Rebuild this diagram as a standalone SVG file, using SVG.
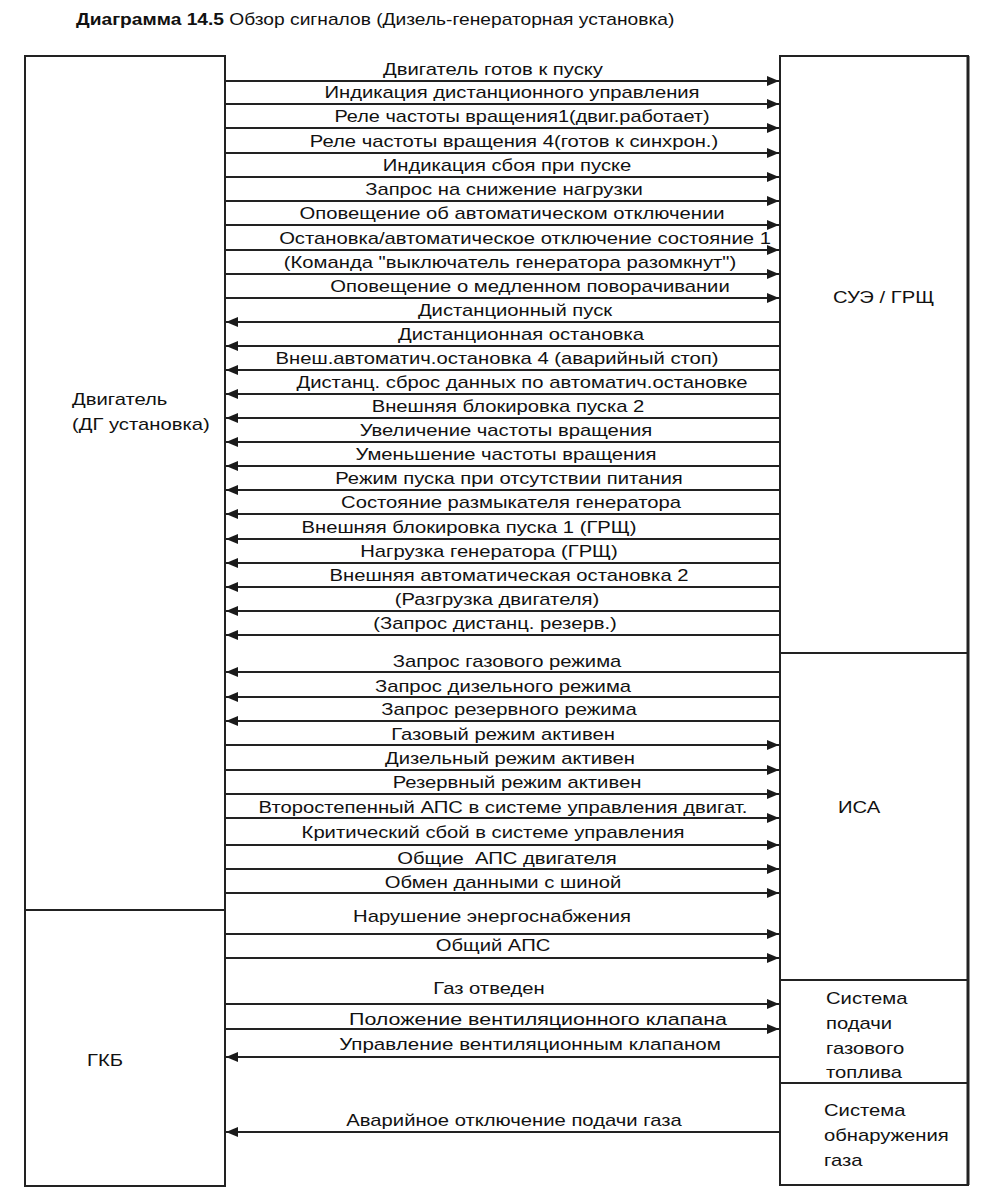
<svg xmlns="http://www.w3.org/2000/svg" width="982" height="1201" viewBox="0 0 982 1201">
<defs>
<marker id="ah" markerUnits="userSpaceOnUse" markerWidth="12" markerHeight="10" refX="12" refY="5" orient="auto">
<path d="M0,0 L12,5 L0,10 z" fill="#1a1a1a"/>
</marker>
<style>
.box{fill:#fff;stroke:#222;stroke-width:2}
.div{stroke:#222;stroke-width:2}
.ln{stroke:#222;stroke-width:2;fill:none}
.r{marker-end:url(#ah)}
.t{font-family:"Liberation Sans",Arial,sans-serif;font-size:17px;fill:#111}
.c{text-anchor:middle}
</style>
</defs>
<rect width="982" height="1201" fill="#fff"/>
<text transform="matrix(1.2 0 0 1 76 25)" class="t" style="font-size:16px"><tspan font-weight="bold">Диаграмма 14.5</tspan> Обзор сигналов (Дизель-генераторная установка)</text>

<g id="engine">
<rect class="box" x="25" y="56" width="200" height="1130"/>
<line class="div" x1="25" y1="910" x2="225" y2="910"/>
<text class="t" transform="matrix(1.19 0 0 1 72 405)">Двигатель</text>
<text class="t" transform="matrix(1.19 0 0 1 72 430)">(ДГ установка)</text>
</g>
<g id="gkb">
<text class="t" transform="matrix(1.19 0 0 1 87 1066)">ГКБ</text>
</g>
<g id="sue">
<rect class="box" x="780" y="56" width="188" height="1129"/>
<line x1="968" y1="56" x2="968" y2="1185" stroke="#222" stroke-width="3"/>
<line class="div" x1="780" y1="653" x2="968" y2="653"/>
<text class="t" transform="matrix(1.19 0 0 1 833 303)">СУЭ / ГРЩ</text>
</g>
<g id="isa">
<line class="div" x1="780" y1="980" x2="968" y2="980"/>
<text class="t" transform="matrix(1.19 0 0 1 838 813)">ИСА</text>
</g>
<g id="gas-supply">
<line class="div" x1="780" y1="1083" x2="968" y2="1083"/>
<text class="t" transform="matrix(1.19 0 0 1 826 1004)">Система</text>
<text class="t" transform="matrix(1.19 0 0 1 826 1029)">подачи</text>
<text class="t" transform="matrix(1.19 0 0 1 826 1054)">газового</text>
<text class="t" transform="matrix(1.19 0 0 1 826 1078)">топлива</text>
</g>
<g id="gas-detect">
<text class="t" transform="matrix(1.19 0 0 1 824 1116)">Система</text>
<text class="t" transform="matrix(1.19 0 0 1 824 1141)">обнаружения</text>
<text class="t" transform="matrix(1.19 0 0 1 824 1166)">газа</text>
</g>

<g id="connectors">
<line class="ln r" x1="226" y1="81" x2="779" y2="81"/>
<line class="ln r" x1="226" y1="104" x2="779" y2="104"/>
<line class="ln r" x1="226" y1="128" x2="779" y2="128"/>
<line class="ln r" x1="226" y1="153" x2="779" y2="153"/>
<line class="ln r" x1="226" y1="177" x2="779" y2="177"/>
<line class="ln r" x1="226" y1="201" x2="779" y2="201"/>
<line class="ln r" x1="226" y1="225" x2="779" y2="225"/>
<line class="ln r" x1="226" y1="250" x2="779" y2="250"/>
<line class="ln r" x1="226" y1="274" x2="779" y2="274"/>
<line class="ln r" x1="226" y1="298" x2="779" y2="298"/>
<line class="ln r" x1="779" y1="322" x2="226" y2="322"/>
<line class="ln r" x1="779" y1="346" x2="226" y2="346"/>
<line class="ln r" x1="779" y1="370" x2="226" y2="370"/>
<line class="ln r" x1="779" y1="394" x2="226" y2="394"/>
<line class="ln r" x1="779" y1="418" x2="226" y2="418"/>
<line class="ln r" x1="779" y1="442" x2="226" y2="442"/>
<line class="ln r" x1="779" y1="466" x2="226" y2="466"/>
<line class="ln r" x1="779" y1="490" x2="226" y2="490"/>
<line class="ln r" x1="779" y1="514" x2="226" y2="514"/>
<line class="ln r" x1="779" y1="539" x2="226" y2="539"/>
<line class="ln r" x1="779" y1="563" x2="226" y2="563"/>
<line class="ln r" x1="779" y1="587" x2="226" y2="587"/>
<line class="ln r" x1="779" y1="611" x2="226" y2="611"/>
<line class="ln r" x1="779" y1="635" x2="226" y2="635"/>
<line class="ln r" x1="779" y1="672" x2="226" y2="672"/>
<line class="ln r" x1="779" y1="697" x2="226" y2="697"/>
<line class="ln r" x1="779" y1="721" x2="226" y2="721"/>
<line class="ln r" x1="226" y1="745" x2="779" y2="745"/>
<line class="ln r" x1="226" y1="770" x2="779" y2="770"/>
<line class="ln r" x1="226" y1="794" x2="779" y2="794"/>
<line class="ln r" x1="226" y1="818" x2="779" y2="818"/>
<line class="ln r" x1="226" y1="845" x2="779" y2="845"/>
<line class="ln r" x1="226" y1="869" x2="779" y2="869"/>
<line class="ln r" x1="226" y1="893" x2="779" y2="893"/>
<line class="ln r" x1="226" y1="934" x2="779" y2="934"/>
<line class="ln r" x1="226" y1="958" x2="779" y2="958"/>
<line class="ln r" x1="226" y1="1004" x2="779" y2="1004"/>
<line class="ln r" x1="226" y1="1029" x2="779" y2="1029"/>
<line class="ln r" x1="779" y1="1057" x2="226" y2="1057"/>
<line class="ln r" x1="779" y1="1132" x2="226" y2="1132"/>
</g>

<g id="labels" class="t c">
<text transform="matrix(1.19 0 0 1 493 75)">Двигатель готов к пуску</text>
<text transform="matrix(1.19 0 0 1 512 98)">Индикация дистанционного управления</text>
<text transform="matrix(1.17 0 0 1 522 122)">Реле частоты вращения1(двиг.работает)</text>
<text transform="matrix(1.19 0 0 1 514 147)">Реле частоты вращения 4(готов к синхрон.)</text>
<text transform="matrix(1.19 0 0 1 507 171)">Индикация сбоя при пуске</text>
<text transform="matrix(1.19 0 0 1 504 195)">Запрос на снижение нагрузки</text>
<text transform="matrix(1.19 0 0 1 512 219)">Оповещение об автоматическом отключении</text>
<text transform="matrix(1.19 0 0 1 525 244)">Остановка/автоматическое отключение состояние 1</text>
<text transform="matrix(1.19 0 0 1 510 268)">(Команда "выключатель генератора разомкнут")</text>
<text transform="matrix(1.19 0 0 1 530 292)">Оповещение о медленном поворачивании</text>
<text transform="matrix(1.19 0 0 1 515 316)">Дистанционный пуск</text>
<text transform="matrix(1.19 0 0 1 521 340)">Дистанционная остановка</text>
<text transform="matrix(1.19 0 0 1 497 364)">Внеш.автоматич.остановка 4 (аварийный стоп)</text>
<text transform="matrix(1.19 0 0 1 522 388)">Дистанц. сброс данных по автоматич.остановке</text>
<text transform="matrix(1.19 0 0 1 508 412)">Внешняя блокировка пуска 2</text>
<text transform="matrix(1.19 0 0 1 506 436)">Увеличение частоты вращения</text>
<text transform="matrix(1.19 0 0 1 506 460)">Уменьшение частоты вращения</text>
<text transform="matrix(1.19 0 0 1 509 484)">Режим пуска при отсутствии питания</text>
<text transform="matrix(1.19 0 0 1 511 508)">Состояние размыкателя генератора</text>
<text transform="matrix(1.19 0 0 1 469 533)">Внешняя блокировка пуска 1 (ГРЩ)</text>
<text transform="matrix(1.19 0 0 1 489 557)">Нагрузка генератора (ГРЩ)</text>
<text transform="matrix(1.19 0 0 1 509 581)">Внешняя автоматическая остановка 2</text>
<text transform="matrix(1.19 0 0 1 497 605)">(Разгрузка двигателя)</text>
<text transform="matrix(1.19 0 0 1 495 629)">(Запрос дистанц. резерв.)</text>
<text transform="matrix(1.19 0 0 1 507 667)">Запрос газового режима</text>
<text transform="matrix(1.19 0 0 1 503 692)">Запрос дизельного режима</text>
<text transform="matrix(1.19 0 0 1 509 715)">Запрос резервного режима</text>
<text transform="matrix(1.19 0 0 1 503 740)">Газовый режим активен</text>
<text transform="matrix(1.19 0 0 1 510 764)">Дизельный режим активен</text>
<text transform="matrix(1.19 0 0 1 517 788)">Резервный режим активен</text>
<text transform="matrix(1.19 0 0 1 503 813)">Второстепенный АПС в системе управления двигат.</text>
<text transform="matrix(1.19 0 0 1 493 838)">Критический сбой в системе управления</text>
<text transform="matrix(1.19 0 0 1 507 864)" xml:space="preserve" style="white-space:pre">Общие  АПС двигателя</text>
<text transform="matrix(1.19 0 0 1 503 888)">Обмен данными с шиной</text>
<text transform="matrix(1.19 0 0 1 492 922)">Нарушение энергоснабжения</text>
<text transform="matrix(1.19 0 0 1 493 951)">Общий АПС</text>
<text transform="matrix(1.19 0 0 1 489 994)">Газ отведен</text>
<text transform="matrix(1.26 0 0 1 538 1025)">Положение вентиляционного клапана</text>
<text transform="matrix(1.21 0 0 1 530 1050)">Управление вентиляционным клапаном</text>
<text transform="matrix(1.19 0 0 1 514 1126)">Аварийное отключение подачи газа</text>
</g>
</svg>
